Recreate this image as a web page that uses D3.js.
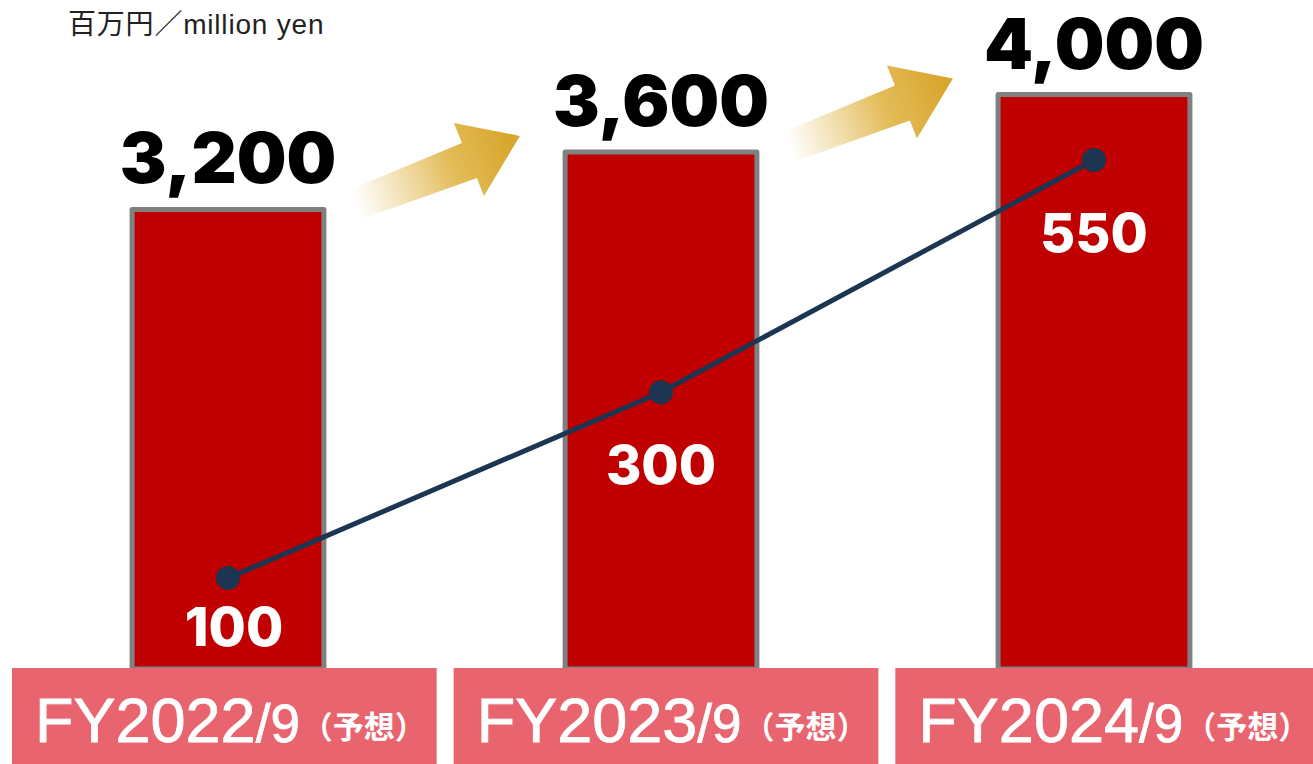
<!DOCTYPE html>
<html>
<head>
    <meta charset="utf-8">
    <title>Sales and profit forecast</title>
    <script src="https://cdn.jsdelivr.net/npm/d3@7"></script>
    <style>
        body { margin: 0; background: #fff; }
        .bar-label { font-family: Inter, "Noto Sans", sans-serif; font-weight: 900; text-anchor: middle; fill: #000; }
        .line-label { font-family: Inter, "Noto Sans", sans-serif; font-weight: 800; text-anchor: middle; fill: #fff; }
        .cat-label { font-family: "Liberation Sans", Arial, sans-serif; fill: #fff; stroke: #fff; stroke-width: 0.8px; }
        .unit { font-family: "Liberation Sans", "Noto Sans CJK JP", sans-serif; font-size: 28px; fill: #222; letter-spacing: 0.8px; }
    </style>
</head>
<body>
    <div id="chart"></div>
    <script>
        // chart data
        const categories = ["FY2022", "FY2023", "FY2024"];
        const catSuffix = ["/9", "/9", "/9"];
        const catNote = ["（予想）", "（予想）", "（予想）"];
        const sales = [3200, 3600, 4000];
        const profit = [100, 300, 550];
        const unitLabel = "百万円／million yen";

        const width = 1313, height = 764;

        const svg = d3.select("#chart").append("svg")
            .attr("width", width)
            .attr("height", height);

        // scales
        const x = d3.scaleBand()
            .domain(categories)
            .range([11.5, 1310.5])
            .paddingInner(0.557)
            .paddingOuter(0.2785);

        const xBox = d3.scaleBand()
            .domain(categories)
            .range([12, 1320])
            .paddingInner(0.0385)
            .paddingOuter(0);

        const y = d3.scaleLinear().domain([0, 4000]).range([669, 94.5]);
        const yLine = d3.scaleLinear().domain([0, 550]).range([671, 160]);

        // gradient for the arrows
        const defs = svg.append("defs");
        const grad = defs.append("linearGradient")
            .attr("id", "arrowGrad")
            .attr("x1", "0%").attr("y1", "60%")
            .attr("x2", "100%").attr("y2", "40%");
        grad.append("stop").attr("offset", "0%").attr("stop-color", "#fff").attr("stop-opacity", 0.9);
        grad.append("stop").attr("offset", "60%").attr("stop-color", "#e3bd5a");
        grad.append("stop").attr("offset", "100%").attr("stop-color", "#d9a52c");

        // unit label
        svg.append("text")
            .attr("class", "unit")
            .attr("x", 68)
            .attr("y", 34)
            .text(unitLabel);

        // bars
        svg.append("g")
            .selectAll("rect")
            .data(sales)
            .join("rect")
            .attr("x", (d, i) => x(categories[i]))
            .attr("y", d => y(d))
            .attr("width", x.bandwidth())
            .attr("height", d => y(0) - y(d))
            .attr("fill", "#c00000")
            .attr("stroke", "#808080")
            .attr("stroke-width", 5)
            .attr("stroke-linejoin", "round");

        // arrows between bars
        const arrowShape = "M0,57 L115,9 L107,-11 L173,2 L137,62 L130,44 L15,85 Z";
        const arrows = d3.pairs(sales.map((d, i) => ({ c: categories[i], v: d })));
        svg.append("g")
            .selectAll("path")
            .data(arrows)
            .join("path")
            .attr("d", arrowShape)
            .attr("fill", "url(#arrowGrad)")
            .attr("transform", d => {
                const x0 = x(d[0].c) + x.bandwidth() + 23;
                const y0 = y(d[1].v) - 18;
                return "translate(" + x0 + "," + y0 + ")";
            });

        // bar value labels
        svg.append("g")
            .selectAll("text")
            .data(sales)
            .join("text")
            .attr("class", "bar-label")
            .attr("x", (d, i) => x(categories[i]) + x.bandwidth() / 2)
            .attr("y", d => y(d) - 26)
            .attr("font-size", 70)
            .text(d => d3.format(",")(d));

        // category boxes
        const cat = svg.append("g")
            .selectAll("g")
            .data(categories)
            .join("g")
            .attr("transform", d => "translate(" + xBox(d) + ",668)");

        cat.append("rect")
            .attr("width", xBox.bandwidth())
            .attr("height", 96)
            .attr("fill", "#e8656f");

        const label = cat.append("text")
            .attr("class", "cat-label")
            .attr("x", 23)
            .attr("y", 74);
        label.append("tspan").attr("font-size", 63).text(d => d);
        label.append("tspan").attr("font-size", 53).text((d, i) => catSuffix[i]);
        label.append("tspan")
            .attr("font-size", 31)
            .attr("font-weight", "bold")
            .attr("stroke-width", 0)
            .attr("font-family", "'Noto Sans CJK JP', sans-serif")
            .attr("dx", 2)
            .attr("dy", -4)
            .text((d, i) => catNote[i]);

        // profit line
        const cx = (d, i) => x(categories[i]) + x.bandwidth() / 2;
        const line = d3.line()
            .x(cx)
            .y(d => yLine(d));

        svg.append("path")
            .datum(profit)
            .attr("d", line)
            .attr("fill", "none")
            .attr("stroke", "#1b3552")
            .attr("stroke-width", 5);

        svg.append("g")
            .selectAll("circle")
            .data(profit)
            .join("circle")
            .attr("cx", cx)
            .attr("cy", d => yLine(d))
            .attr("r", 12)
            .attr("fill", "#1b3552");

        svg.append("g")
            .selectAll("text")
            .data(profit)
            .join("text")
            .attr("class", "line-label")
            .attr("x", (d, i) => cx(d, i) + (i === 0 ? 6 : 0))
            .attr("y", d => Math.min(yLine(d) + 92, 646))
            .attr("font-size", 54)
            .text(d => d);
    </script>
</body>
</html>
